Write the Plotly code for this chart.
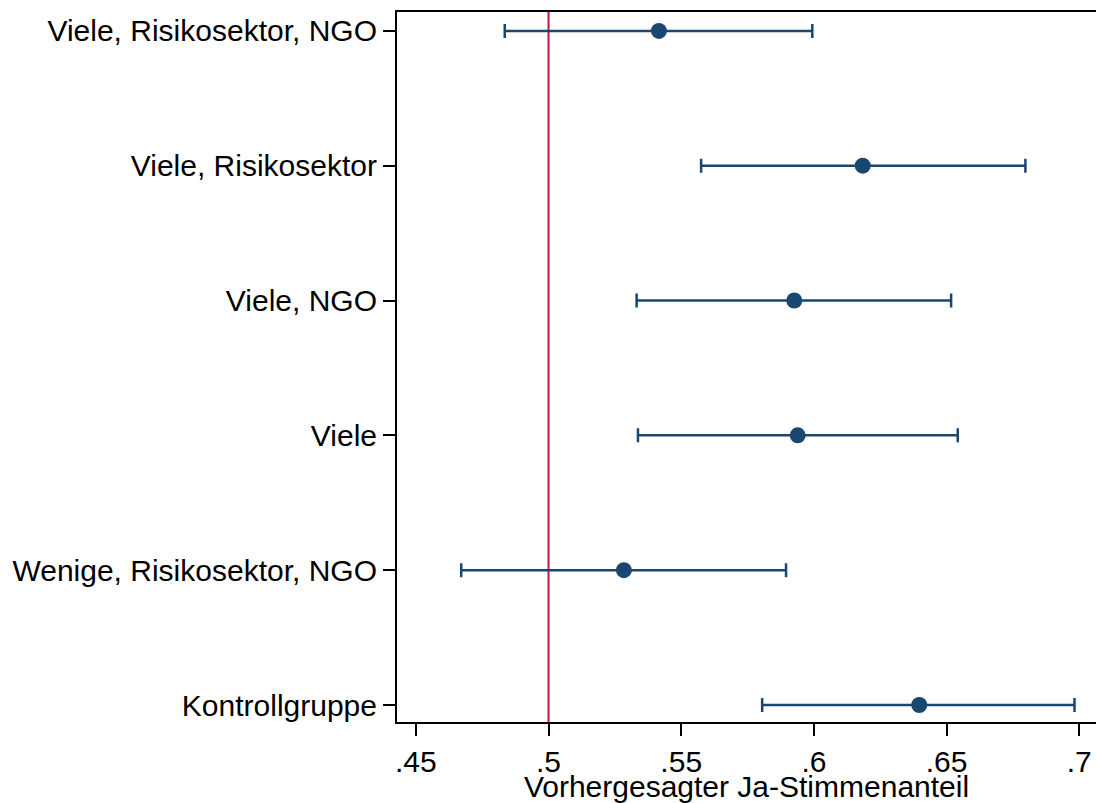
import plotly.graph_objects as go

categories = ["Viele, Risikosektor, NGO", "Viele, Risikosektor", "Viele, NGO",
              "Viele", "Wenige, Risikosektor, NGO", "Kontrollgruppe"]
estimates = [0.5416, 0.6184, 0.5926, 0.5939, 0.5284, 0.6397]
ci_low = [0.4835, 0.5575, 0.5332, 0.5337, 0.4671, 0.5805]
ci_high = [0.5994, 0.6797, 0.6517, 0.6542, 0.5895, 0.6982]
x_ticks = [0.45, 0.5, 0.55, 0.6, 0.65, 0.7]
x_tick_labels = [".45", ".5", ".55", ".6", ".65", ".7"]
reference_value = 0.5

n = len(categories)
ypos = [n - 1 - i for i in range(n)]
err_plus = [h - e for h, e in zip(ci_high, estimates)]
err_minus = [e - l for e, l in zip(estimates, ci_low)]

navy = "#1a476f"
fig = go.Figure()
fig.add_trace(go.Scatter(
    x=estimates, y=ypos, mode="markers",
    marker=dict(color=navy, size=16, line=dict(width=0)),
    error_x=dict(type="data", symmetric=False, array=err_plus, arrayminus=err_minus,
                 color=navy, thickness=2.5, width=7),
    showlegend=False,
))
fig.add_shape(type="line", xref="x", yref="paper", x0=reference_value, x1=reference_value,
              y0=0, y1=1, line=dict(color="#c8103c", width=2), layer="below")

font = "Liberation Sans, Arial, sans-serif"
fig.update_layout(
    width=1096, height=803,
    margin=dict(l=397, r=0, t=12, b=81),
    paper_bgcolor="white", plot_bgcolor="white",
    font=dict(family=font, size=30, color="black"),
    xaxis=dict(range=[0.4429, 0.7063], tickvals=x_ticks, ticktext=x_tick_labels,
               showgrid=False, zeroline=False, showline=True, linecolor="black",
               linewidth=2, mirror=True, ticks="outside", ticklen=12, tickwidth=1.5,
               tickcolor="black", tickfont=dict(size=30),
               title=dict(text="Vorhergesagter Ja-Stimmenanteil", font=dict(size=30), standoff=0)),
    yaxis=dict(range=[-0.126, n - 1 + 0.14], tickvals=ypos, ticktext=categories,
               showgrid=False, zeroline=False, showline=True, linecolor="black",
               linewidth=2, mirror=False, ticks="outside", ticklen=12, tickwidth=1.5,
               tickcolor="black", tickfont=dict(size=30)),
)
fig.write_html("out.html", config={"displayModeBar": False},
               post_script="document.body.style.margin='0';document.body.style.overflow='hidden';")
